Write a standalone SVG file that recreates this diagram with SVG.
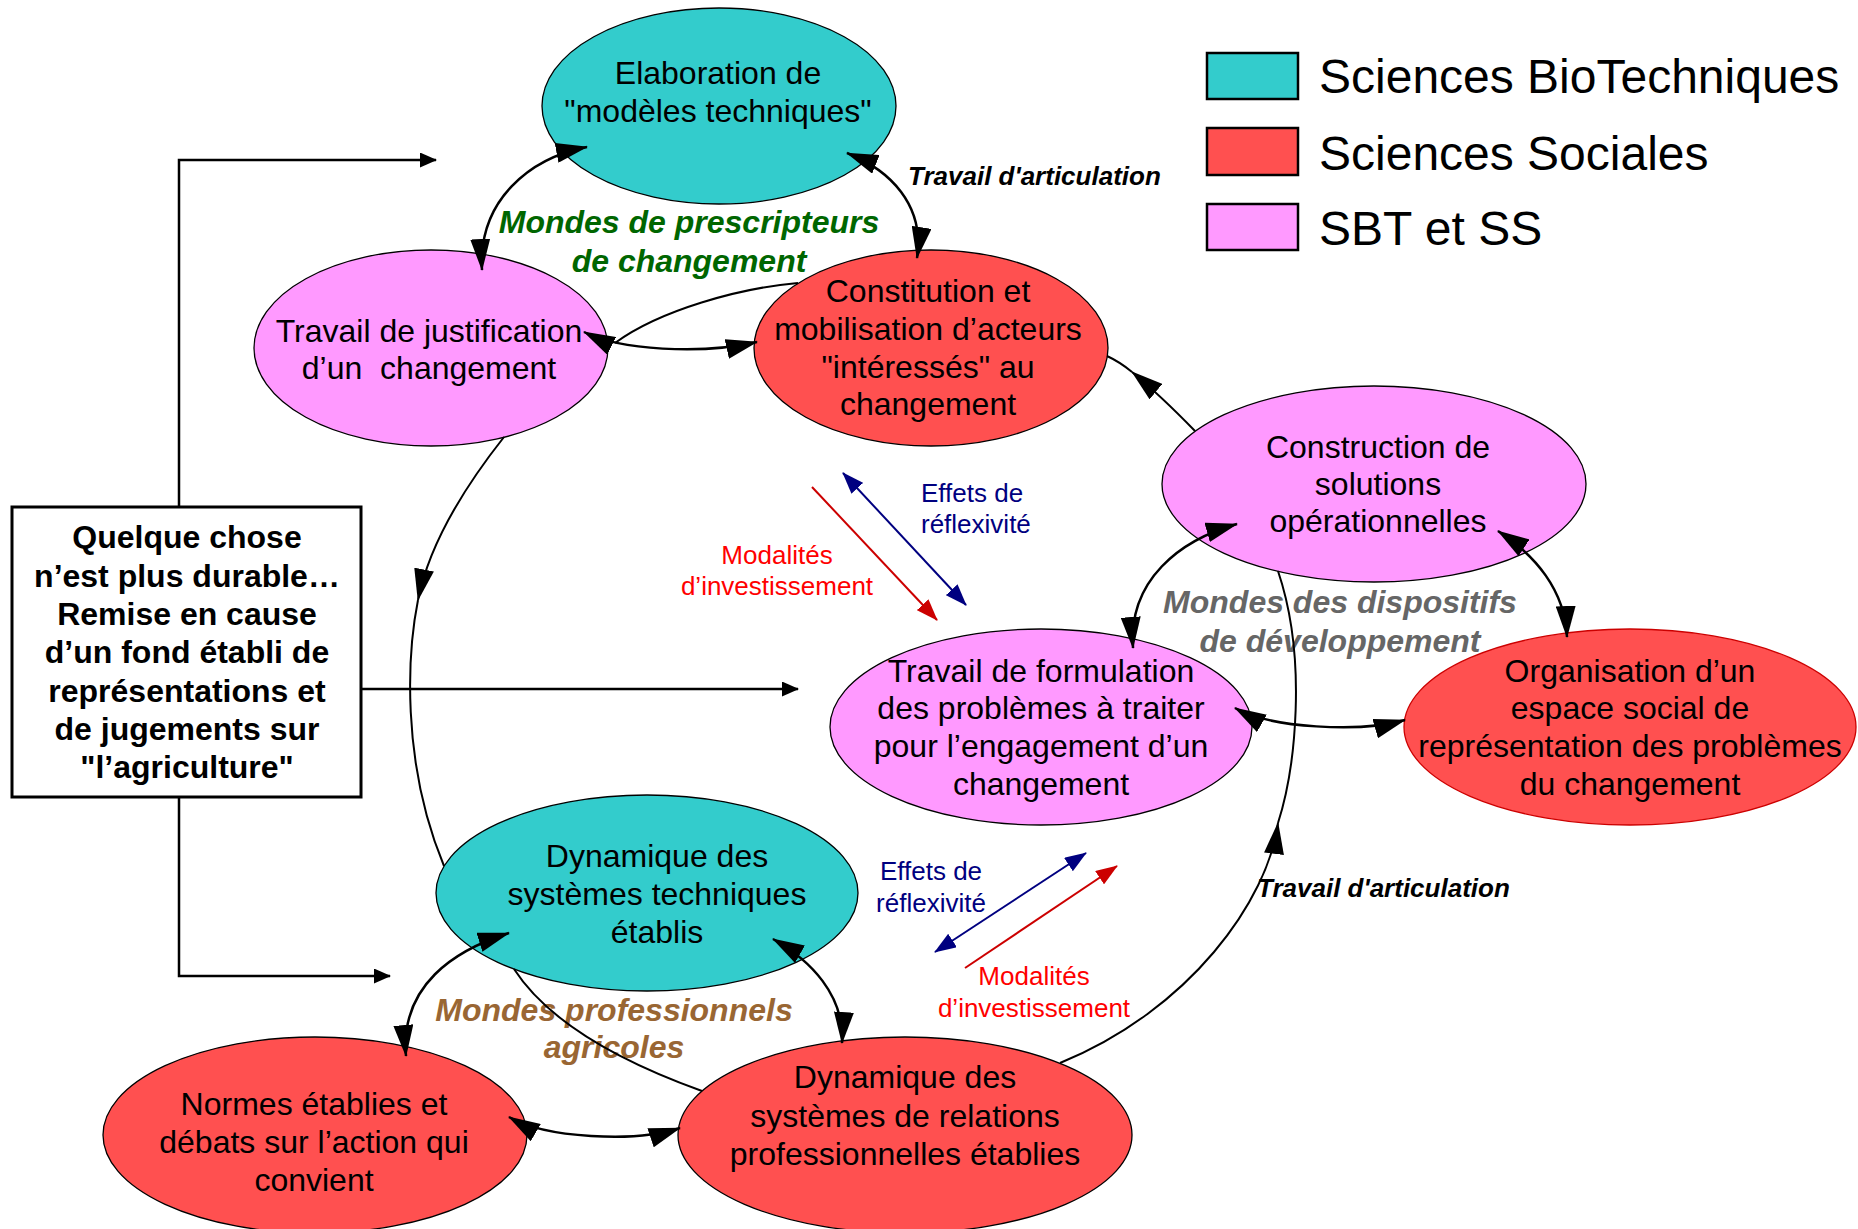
<svg xmlns="http://www.w3.org/2000/svg" width="1858" height="1229" viewBox="0 0 1858 1229">
<style>
.n{stroke:#000;stroke-width:1.3}
.bt{fill:#33CCCC}.ss{fill:#FF5050}.mx{fill:#FF99FF}
.t{font-family:"Liberation Sans",Arial,sans-serif;font-size:32px;fill:#000;text-anchor:middle}
.bx{font-family:"Liberation Sans",Arial,sans-serif;font-size:32px;font-weight:bold;fill:#000;text-anchor:middle}
.w{font-family:"Liberation Sans",Arial,sans-serif;font-size:32px;font-weight:bold;font-style:italic;text-anchor:middle}
.ar{font-family:"Liberation Sans",Arial,sans-serif;font-size:26px;font-weight:bold;font-style:italic;fill:#000}
.bl{font-family:"Liberation Sans",Arial,sans-serif;font-size:26px;fill:#000080}
.rd{font-family:"Liberation Sans",Arial,sans-serif;font-size:26px;fill:#FF0000;text-anchor:middle}
.lg{font-family:"Liberation Sans",Arial,sans-serif;font-size:48px;fill:#000}
.c{fill:none;stroke:#000;stroke-width:2}
.cb{fill:none;stroke:#000;stroke-width:2.5}
.nv{fill:none;stroke:#000080;stroke-width:2}
.rl{fill:none;stroke:#CC0000;stroke-width:2}
</style>
<defs>
<marker id="ah" markerUnits="userSpaceOnUse" markerWidth="32" markerHeight="20" viewBox="0 0 32 20" refX="31" refY="10" orient="auto-start-reverse"><path d="M0,0 L32,10 L0,20 z" fill="#000"/></marker>
<marker id="sa" markerUnits="userSpaceOnUse" markerWidth="17" markerHeight="15" viewBox="0 0 17 15" refX="16" refY="7.5" orient="auto"><path d="M0,0 L17,7.5 L0,15 z" fill="#000"/></marker>
<marker id="an" markerUnits="userSpaceOnUse" markerWidth="22" markerHeight="16" viewBox="0 0 22 16" refX="21" refY="8" orient="auto-start-reverse"><path d="M0,0 L22,8 L0,16 z" fill="#000080"/></marker>
<marker id="arr" markerUnits="userSpaceOnUse" markerWidth="22" markerHeight="16" viewBox="0 0 22 16" refX="21" refY="8" orient="auto"><path d="M0,0 L22,8 L0,16 z" fill="#CC0000"/></marker>
</defs>
<rect width="1858" height="1229" fill="#fff"/>

<g id="legend">
<rect x="1207" y="53" width="91" height="46" class="bt" stroke="#000" stroke-width="2.5"/>
<rect x="1207" y="128" width="91" height="47" class="ss" stroke="#000" stroke-width="2.5"/>
<rect x="1207" y="204" width="91" height="46" class="mx" stroke="#000" stroke-width="2.5"/>
<text class="lg" x="1319" y="93">Sciences BioTechniques</text>
<text class="lg" x="1319" y="170">Sciences Sociales</text>
<text class="lg" x="1319" y="245">SBT et SS</text>
</g>

<g id="n-elaboration">
<ellipse class="n bt" cx="719" cy="106" rx="177" ry="98"/>
<text class="t" x="718" y="84">Elaboration de</text>
<text class="t" x="718" y="122">"modèles techniques"</text>
</g>
<g id="n-justification">
<ellipse class="n mx" cx="431" cy="348" rx="177" ry="98"/>
<text class="t" x="429" y="342">Travail de justification</text>
<text class="t" x="429" y="379" xml:space="preserve">d’un  changement</text>
</g>
<g id="n-constitution">
<ellipse class="n ss" cx="931" cy="348" rx="177" ry="98"/>
<text class="t" x="928" y="302">Constitution et</text>
<text class="t" x="928" y="340">mobilisation d’acteurs</text>
<text class="t" x="928" y="378">"intéressés" au</text>
<text class="t" x="928" y="415">changement</text>
</g>
<g id="n-construction">
<ellipse class="n mx" cx="1374" cy="484" rx="212" ry="98"/>
<text class="t" x="1378" y="458">Construction de</text>
<text class="t" x="1378" y="495">solutions</text>
<text class="t" x="1378" y="532">opérationnelles</text>
</g>
<g id="n-formulation">
<ellipse class="n mx" cx="1041" cy="727" rx="211" ry="98"/>
<text class="t" x="1041" y="682">Travail de formulation</text>
<text class="t" x="1041" y="719">des problèmes à traiter</text>
<text class="t" x="1041" y="757">pour l’engagement d’un</text>
<text class="t" x="1041" y="795">changement</text>
</g>
<g id="n-organisation">
<ellipse class="ss" cx="1630" cy="727" rx="226" ry="98" stroke="#CC0000" stroke-width="1.3"/>
<text class="t" x="1630" y="682">Organisation d’un</text>
<text class="t" x="1630" y="719">espace social de</text>
<text class="t" x="1630" y="757">représentation des problèmes</text>
<text class="t" x="1630" y="795">du changement</text>
</g>
<g id="n-dyntech">
<ellipse class="n bt" cx="647" cy="893" rx="211" ry="98"/>
<text class="t" x="657" y="867">Dynamique des</text>
<text class="t" x="657" y="905">systèmes techniques</text>
<text class="t" x="657" y="943">établis</text>
</g>
<g id="n-normes">
<ellipse class="n ss" cx="315" cy="1135" rx="212" ry="98"/>
<text class="t" x="314" y="1115">Normes établies et</text>
<text class="t" x="314" y="1153">débats sur l’action qui</text>
<text class="t" x="314" y="1191">convient</text>
</g>
<g id="n-relations">
<ellipse class="n ss" cx="905" cy="1135" rx="227" ry="98"/>
<text class="t" x="905" y="1088">Dynamique des</text>
<text class="t" x="905" y="1127">systèmes de relations</text>
<text class="t" x="905" y="1165">professionnelles établies</text>
</g>
<g id="n-box">
<rect x="12" y="507" width="349" height="290" fill="#fff" stroke="#000" stroke-width="3"/>
<text class="bx" x="187" y="548">Quelque chose</text>
<text class="bx" x="187" y="587">n’est plus durable…</text>
<text class="bx" x="187" y="625">Remise en cause</text>
<text class="bx" x="187" y="663">d’un fond établi de</text>
<text class="bx" x="187" y="702">représentations et</text>
<text class="bx" x="187" y="740">de jugements sur</text>
<text class="bx" x="187" y="778">"l’agriculture"</text>
</g>

<g id="labels">
<text class="w" x="689" y="233" fill="#006600">Mondes de prescripteurs</text>
<text class="w" x="689" y="272" fill="#006600">de changement</text>
<text class="w" x="1340" y="613" fill="#666666">Mondes des dispositifs</text>
<text class="w" x="1340" y="652" fill="#666666">de développement</text>
<text class="w" x="614" y="1021" fill="#996633">Mondes professionnels</text>
<text class="w" x="614" y="1058" fill="#996633">agricoles</text>
<text class="ar" x="908" y="185">Travail d'articulation</text>
<text class="ar" x="1257" y="897">Travail d'articulation</text>
<text class="bl" x="921" y="502">Effets de</text>
<text class="bl" x="921" y="533">réflexivité</text>
<text class="rd" x="777" y="564">Modalités</text>
<text class="rd" x="777" y="595">d’investissement</text>
<text class="bl" x="931" y="880" text-anchor="middle">Effets de</text>
<text class="bl" x="931" y="912" text-anchor="middle">réflexivité</text>
<text class="rd" x="1034" y="985">Modalités</text>
<text class="rd" x="1034" y="1017">d’investissement</text>
</g>

<g id="connectors">
<!-- big cycle -->
<path class="c" d="M504,437 C470,480 430,540 418,600" marker-end="url(#ah)"/>
<path class="c" d="M418,600 C408,650 400,760 444,866"/>
<path class="c" d="M514,969 Q560,1040 702,1091"/>
<path class="c" d="M1060,1063 C1190,1010 1268,900 1278,823" marker-end="url(#ah)"/>
<path class="c" d="M1278,823 C1295,770 1308,660 1278,571"/>
<path class="c" d="M1195,431 Q1160,395 1132,372" marker-end="url(#ah)"/>
<path class="c" d="M1132,372 Q1120,362 1107,356"/>
<path class="c" d="M798,283 C740,288 660,310 615,343"/>
<!-- double arrows -->
<path class="cb" d="M584,332 C620,350 700,355 757,342" marker-start="url(#ah)" marker-end="url(#ah)"/>
<path class="cb" d="M587,147 C530,158 478,200 482,270" marker-start="url(#ah)" marker-end="url(#ah)"/>
<path class="cb" d="M847,153 C890,170 925,205 917,258" marker-start="url(#ah)" marker-end="url(#ah)"/>
<path class="cb" d="M1237,524 C1180,540 1128,580 1133,648" marker-start="url(#ah)" marker-end="url(#ah)"/>
<path class="cb" d="M1498,531 C1535,555 1565,590 1567,637" marker-start="url(#ah)" marker-end="url(#ah)"/>
<path class="cb" d="M1235,708 C1270,728 1360,733 1405,720" marker-start="url(#ah)" marker-end="url(#ah)"/>
<path class="cb" d="M509,933 C455,950 400,985 406,1056" marker-start="url(#ah)" marker-end="url(#ah)"/>
<path class="cb" d="M773,939 C810,960 845,995 842,1043" marker-start="url(#ah)" marker-end="url(#ah)"/>
<path class="cb" d="M509,1117 C545,1138 635,1143 680,1128" marker-start="url(#ah)" marker-end="url(#ah)"/>
<!-- box arrows -->
<path class="cb" d="M179,507 V160 H436" marker-end="url(#sa)"/>
<path class="cb" d="M361,689 H798" marker-end="url(#sa)"/>
<path class="cb" d="M179,797 V976 H390" marker-end="url(#sa)"/>
<!-- reflexivity / investment -->
<path class="nv" d="M843,473 L966,605" marker-start="url(#an)" marker-end="url(#an)"/>
<path class="rl" d="M812,487 L937,620" marker-end="url(#arr)"/>
<path class="nv" d="M1086,853 L935,952" marker-start="url(#an)" marker-end="url(#an)"/>
<path class="rl" d="M965,968 L1117,866" marker-end="url(#arr)"/>
</g>
</svg>
